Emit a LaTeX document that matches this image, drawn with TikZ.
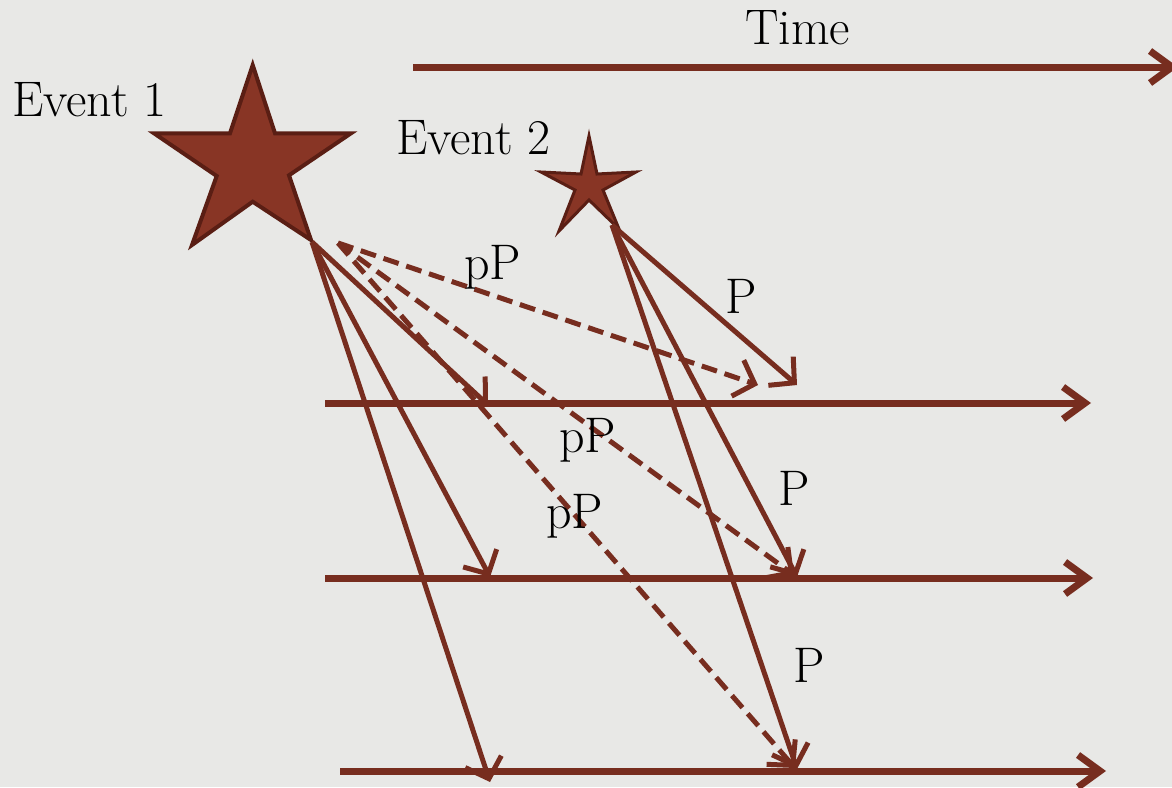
\documentclass[tikz,border=0pt]{standalone}
\usetikzlibrary{arrows.meta}
\definecolor{bg}{HTML}{E8E8E6}
\definecolor{ln}{HTML}{772D1F}
\definecolor{starfill}{HTML}{883525}
\definecolor{starline}{HTML}{5A1E14}
\begin{document}
\begin{tikzpicture}[x=1pt,y=-1pt,
  axis/.style={draw=ln, line width=7pt, -{Straight Barb[length=22pt,width=32pt]}},
  sig/.style={draw=ln, line width=5pt, -{Straight Barb[length=18pt,width=38pt]}},
  sigdash/.style={sig, dash pattern=on 16pt off 8pt},
  startype/.style={fill=starfill, draw=starline, line width=4pt, line join=miter},
  biglbl/.style={font=\fontsize{50}{55}\selectfont, inner sep=0pt, anchor=base west}]
\useasboundingbox (0,0) rectangle (1172,787);
\fill[bg] (0,0) rectangle (1172,787);
\clip (0,0) rectangle (1172,787);

% stars
\filldraw[startype] (252.7,65) -- (275,133.3) -- (351,133.3) -- (289,175.3) -- (311,240) --
  (252.7,201.7) -- (192,245) -- (216.7,176) -- (154,133.3) -- (230,133.3) -- cycle;
\filldraw[startype, line width=3pt] (589,136) -- (597,174) -- (636,172) -- (603,190) -- (619,229) --
  (589,200) -- (559,231) -- (575,190) -- (541,172) -- (581,174) -- cycle;

% anchor coordinates
\coordinate (s1) at (312,242);
\coordinate (s1d) at (338,243);
\coordinate (s2) at (612,225);

\coordinate (t0) at (413,67);   \coordinate (t1) at (1178,67);
\coordinate (a0) at (325,403);  \coordinate (a1) at (1091,403);
\coordinate (b0) at (325,578);  \coordinate (b1) at (1093,578);
\coordinate (c0) at (340,771);  \coordinate (c1) at (1106,771);

\coordinate (e1) at (488,405);
\coordinate (e2) at (490,577);
\coordinate (e3) at (490,782);
\coordinate (d1) at (758,385);
\coordinate (d2) at (794,575);
\coordinate (d3) at (795,768);
\coordinate (p1) at (797,385);
\coordinate (p2) at (797,577);
\coordinate (p3) at (797,769);

% time lines
\draw[axis] (t0) -- (t1);
\draw[axis] (a0) -- (a1);
\draw[axis] (b0) -- (b1);
\draw[axis] (c0) -- (c1);

% event 1 solid
\draw[sig] (s1) -- (e1);
\draw[sig] (s1) -- (e2);
\draw[sig] (s1) -- (e3);
% event 1 dashed
\draw[sigdash] (s1d) -- (d1);
\draw[sigdash] (s1d) -- (d2);
\draw[sigdash] (s1d) -- (d3);
% event 2
\draw[sig] (s2) -- (p1);
\draw[sig] (s2) -- (p2);
\draw[sig] (s2) -- (p3);

% labels
\node[biglbl] (time) at (745,44) {Time};
\node[biglbl] (ev1) at (12,116) {Event 1};
\node[biglbl] (ev2) at (396,154) {Event 2};
\node[biglbl] (pp1) at (464,279) {pP};
\node[biglbl] (pp2) at (559,452) {pP};
\node[biglbl] (pp3) at (546,528) {pP};
\node[biglbl] (pl1) at (725,313) {P};
\node[biglbl] (pl2) at (778,505) {P};
\node[biglbl] (pl3) at (793,682) {P};
\end{tikzpicture}
\end{document}
